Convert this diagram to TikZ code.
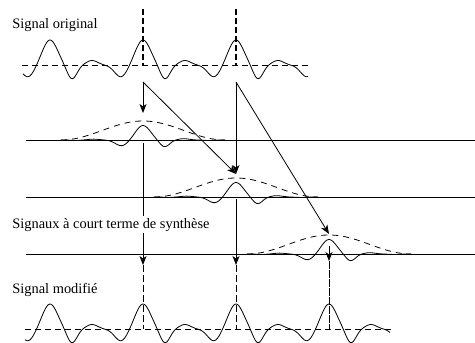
\documentclass[tikz,border=0pt]{standalone}
\usepackage{fontspec}
\setmainfont{Liberation Serif}
\usetikzlibrary{arrows.meta}
\begin{document}
\begin{tikzpicture}[x=1pt,y=-1pt,line width=0.8pt,
  declare function={
    ga(\aq,\wq)=exp(-min((\aq/\wq)*(\aq/\wq),12));
    gp(\tq)=25*ga(\tq,10.5)-12*ga(\tq+22,9)-14*ga(\tq-22,7)+4.5*ga(\tq-42,8);
    tm(\tq)=mod(\tq+976.5,93)-46.5;
    sig(\tq)=gp(tm(\tq))+gp(tm(\tq)-93)+gp(tm(\tq)+93);
    win(\tq)=ifthenelse(abs(\tq)<82,0.5*(1+cos(180*\tq/82)),0);
  },
  lbl/.style={font=\fontsize{14.4}{16}\selectfont,anchor=base west,inner xsep=0pt,inner ysep=2pt,fill=white},
  arr/.style={-{Stealth[length=9pt,width=7pt,inset=2.5pt]}},
  axisdash/.style={dash pattern=on 6pt off 4pt},
  topdash/.style={line width=1.3pt,dash pattern=on 6pt off 3pt},
  downdash/.style={dash pattern=on 7pt off 3pt},
  windash/.style={dash pattern=on 6pt off 5pt}
]
\useasboundingbox (0,0) rectangle (475,343);

% ---- original signal ----
\coordinate (oa) at (22,65); \coordinate (ob) at (308,65);
\draw[axisdash] (oa) -- (ob);
\draw plot[domain=23:308,samples=300] (\x,{65-sig(\x-50)});
\coordinate (t1) at (143,9); \coordinate (b1) at (143,65);
\coordinate (t2) at (236,9); \coordinate (b2) at (236,65);
\draw[topdash] (t1) -- (b1);
\draw[topdash] (t2) -- (b2);

% ---- rows of short-term signals ----
\foreach \c/\b/\n in {143/140/1,236/197/2,329/254/3}{
  \coordinate (w\n) at (26,\b); \coordinate (e\n) at (475,\b);
  \draw (w\n) -- (e\n);
  \draw[windash] plot[domain=\c-82:\c+82,samples=120] (\x,{\b-19*win(\x-\c)});
  \draw plot[domain=\c-82:\c+82,samples=200] (\x,{\b-0.58*win(\x-\c)*sig(\x-\c)});
}

% ---- analysis arrows ----
\coordinate (s1) at (143,82); \coordinate (s2) at (236,82);
\coordinate (p1) at (143,113); \coordinate (p2) at (236,174); \coordinate (p3) at (329,234);
\draw[arr] (s1) -- (p1);
\draw[arr] (s1) -- (p2);
\draw[arr] (s2) -- (p2);
\draw[arr] (s2) -- (p3);

% ---- synthesis arrows ----
\coordinate (d1) at (143,143); \coordinate (d2) at (236,199); \coordinate (d3) at (329,246);
\coordinate (q1) at (143,265); \coordinate (q2) at (236,265); \coordinate (q3) at (329,261);
\coordinate (m1) at (143,329); \coordinate (m2) at (236,329); \coordinate (m3) at (329,329);
\draw[arr] (d1) -- (q1);
\draw[arr] (d2) -- (q2);
\draw[arr] (d3) -- (q3);
\draw[downdash] (q1) -- (m1);
\draw[downdash] (q2) -- (m2);
\draw[dash pattern=on 8pt off 1pt] (q3) -- (m3);

% ---- modified signal ----
\coordinate (ma) at (25,329); \coordinate (mb) at (391,329);
\draw[axisdash] (ma) -- (mb);
\draw plot[domain=25:390,samples=380] (\x,{329-sig(\x-50)});

% ---- labels ----
\node[lbl] (l1) at (12,28) {Signal original};
\node[lbl] (l2) at (12,228) {Signaux à court terme de synthèse};
\node[lbl] (l3) at (12,293) {Signal modifié};
\end{tikzpicture}
\end{document}
